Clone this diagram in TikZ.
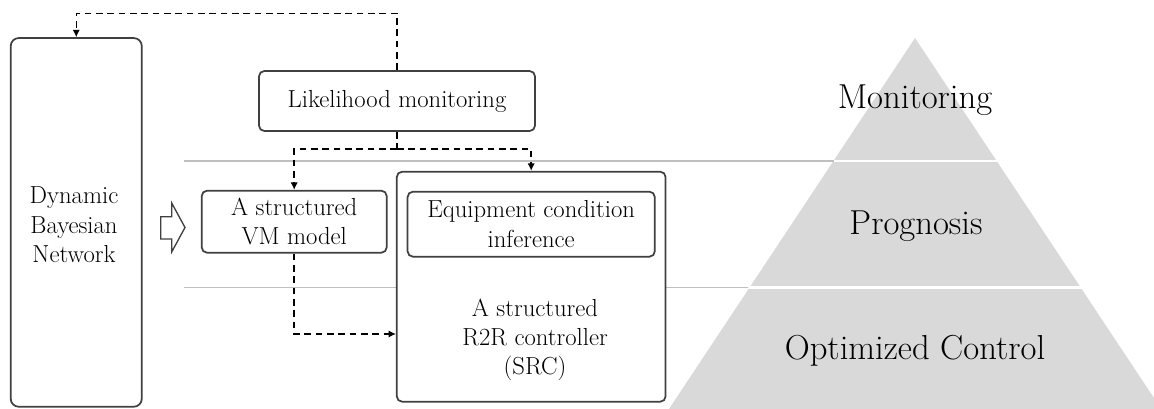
\documentclass[tikz,border=0pt]{standalone}
\usetikzlibrary{arrows.meta}
\definecolor{boxdraw}{HTML}{404040}
\definecolor{sepgray}{HTML}{BFBFBF}
\definecolor{pyrfill}{HTML}{D9D9D9}
\tikzset{
  boxstyle/.style={draw=boxdraw, line width=1.3pt, fill=white, rounded corners=4pt,
    align=center, inner sep=0pt, font=\fontsize{18.5}{22}\selectfont},
  plain/.style={align=center, inner sep=0pt, font=\fontsize{18.5}{22}\selectfont},
  pyrtext/.style={anchor=base, inner sep=0pt, font=\fontsize{26}{30}\selectfont},
  dashconn/.style={draw=black, line width=1.1pt, dash pattern=on 5pt off 3.5pt,
    -{Latex[length=5.5pt,width=5.5pt]}},
  dashline/.style={draw=black, line width=1.1pt, dash pattern=on 5pt off 3.5pt},
  sepline/.style={draw=sepgray, line width=1.1pt},
}
\begin{document}
\begin{tikzpicture}[x=0.75pt, y=-0.75pt]
\useasboundingbox (0,0) rectangle (1154,409);
% pyramid
\fill[pyrfill] (915,38) -- (669,409) -- (1154,409) -- (1154,398) -- cycle;
\draw[white, line width=1.6pt] (820,161) -- (1010,161);
\draw[white, line width=1.6pt] (735,287.5) -- (1095,287.5);
% separator lines
\coordinate (s1a) at (184,161);
\coordinate (s1b) at (833.5,161);
\coordinate (s2a) at (184,287.5);
\coordinate (s2b) at (748,287.5);
\draw[sepline] (s1a) -- (s1b);
\draw[sepline] (s2a) -- (s2b);
% pyramid labels
\node[pyrtext] (mon) at (915,109) {Monitoring};
\node[pyrtext] (prog) at (916,235) {Prognosis};
\node[pyrtext] (opt) at (915,360) {Optimized Control};
% boxes
\node[boxstyle, rounded corners=6pt, minimum width=98.3pt, minimum height=276.5pt] (DBN) at (76.25,222.4) {};
\node[plain] (DBNt) at (74,225) {Dynamic\\Bayesian\\Network};
\node[boxstyle, minimum width=207pt, minimum height=45pt] (LM) at (397,101) {Likelihood monitoring};
\node[boxstyle, minimum width=138.75pt, minimum height=46.5pt] (VM) at (294.2,221.7) {A structured\\VM model};
\node[boxstyle, minimum width=201.6pt, minimum height=172.5pt] (SRC) at (531.2,286.7) {};
\node[boxstyle, minimum width=185.4pt, minimum height=48.75pt] (EQ) at (531.2,224.2) {Equipment condition\\inference};
\node[plain] (SRCt) at (535,340) {A structured\\R2R controller\\(SRC)};
% hollow arrow
\draw[draw=boxdraw, line width=1pt, fill=white] (160.7,216.7) -- (171.7,216.7) -- (171.7,203) -- (185,227.5) -- (171.7,252) -- (171.7,239) -- (160.7,239) -- cycle;
% dashed connectors
\coordinate (ytop) at (0,13.3);
\coordinate (ysplit) at (0,149);
\coordinate (yvs) at (0,334);
\draw[dashconn] (LM.north) -- (LM.north |- ytop) -| (DBN.north);
\draw[dashline] (LM.south) -- (LM.south |- ysplit);
\draw[dashconn] (LM.south |- ysplit) -| (VM.north);
\draw[dashconn] (LM.south |- ysplit) -| (SRC.north);
\draw[dashconn] (VM.south) |- (SRC.west |- yvs);
\end{tikzpicture}
\end{document}
